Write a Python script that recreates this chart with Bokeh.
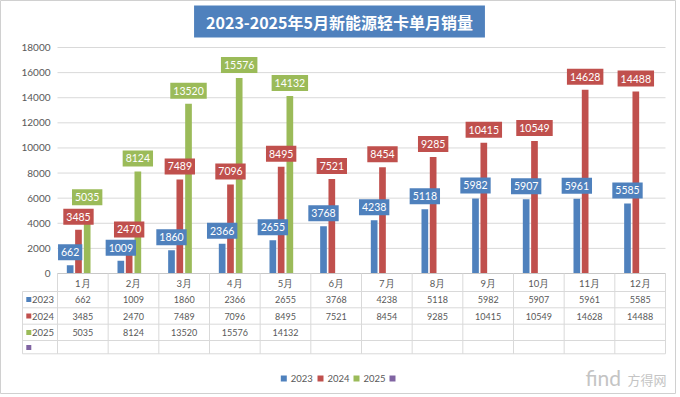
from bokeh.plotting import figure
from bokeh.models import Range1d, ColumnDataSource
from bokeh.core.properties import value
from bokeh.embed import file_html
from bokeh.resources import INLINE

# ---------------- data ----------------
title_text = "2023-2025年5月新能源轻卡单月销量"
months = ["1月", "2月", "3月", "4月", "5月", "6月", "7月", "8月", "9月", "10月", "11月", "12月"]
series_names = ["2023", "2024", "2025"]
sales_2023 = [662, 1009, 1860, 2366, 2655, 3768, 4238, 5118, 5982, 5907, 5961, 5585]
sales_2024 = [3485, 2470, 7489, 7096, 8495, 7521, 8454, 9285, 10415, 10549, 14628, 14488]
sales_2025 = [5035, 8124, 13520, 15576, 14132]
y_ticks = [0, 2000, 4000, 6000, 8000, 10000, 12000, 14000, 16000, 18000]

# ---------------- styles / layout ----------------
C_BLUE, C_RED, C_GREEN, C_PURPLE = "#4F81BD", "#C0504D", "#9BBB59", "#8064A2"
GREY_TXT = "#595959"
LINE = "#d9d9d9"
FONT = value("Lato")

W, H = 676, 394
U = 608 / 12          # px per category
K = 18000 / 226       # value units per px


def xd(px):  # canvas px -> data x
    return (px - 57) / U


def yd(py):  # canvas py -> data y
    return (273 - py) * K


p = figure(width=W, height=H,
           x_range=Range1d(xd(0), xd(W)), y_range=Range1d(yd(H), yd(0)),
           output_backend="svg", toolbar_location=None,
           x_axis_location=None, y_axis_location=None, min_border=0,
           background_fill_color="white", border_fill_color="white",
           outline_line_color="#d0d0d0")
p.grid.visible = False

n = len(months)
centers = [i + 0.5 for i in range(n)]
OFF = [-0.25, -0.0858, 0.0858, 0.25]
BW = 0.132
PAD_H, PAD_V = 3, 4

# gridlines
p.segment(x0=[xd(57)] * len(y_ticks), x1=[xd(665)] * len(y_ticks), y0=y_ticks, y1=y_ticks,
          line_color=LINE, line_width=1)
# y tick labels
p.text(x=[xd(50)] * len(y_ticks), y=y_ticks, text=[str(t) for t in y_ticks],
       text_align="right", text_baseline="middle", text_font=FONT,
       text_font_size="10px", text_color=GREY_TXT)

# bars
src23 = ColumnDataSource(dict(x=[c + OFF[0] for c in centers], top=sales_2023))
src24 = ColumnDataSource(dict(x=[c + OFF[1] for c in centers], top=sales_2024))
src25 = ColumnDataSource(dict(x=[c + OFF[2] for c in centers[:len(sales_2025)]], top=sales_2025))
p.vbar(x="x", top="top", width=BW, source=src23, fill_color=C_BLUE, line_color=None)
p.vbar(x="x", top="top", width=BW, source=src24, fill_color=C_RED, line_color=None)
p.vbar(x="x", top="top", width=BW, source=src25, fill_color=C_GREEN, line_color=None)

# data labels
for src, vals, col in [(src23, sales_2023, C_BLUE), (src24, sales_2024, C_RED), (src25, sales_2025, C_GREEN)]:
    p.text(x=src.data["x"], y=vals, text=[str(v) for v in vals],
           text_align="center", text_baseline="bottom", y_offset=-5,
           text_font=FONT, text_font_size="10.5px", text_color="white",
           background_fill_color=col, padding=(PAD_H, PAD_V))

# ---------------- data table ----------------
rows_y = [291, 307.3, 323.7, 340, 353.3]
row_c = [299, 315.5, 332, 347]
p.segment(x0=[xd(57)], x1=[xd(665)], y0=[0], y1=[0], line_color="#c8c8c8", line_width=1)
p.segment(x0=[xd(22)] * len(rows_y), x1=[xd(665)] * len(rows_y),
          y0=[yd(v) for v in rows_y], y1=[yd(v) for v in rows_y], line_color=LINE, line_width=1)
p.segment(x0=list(range(n + 1)), x1=list(range(n + 1)), y0=[0] * (n + 1), y1=[yd(353.3)] * (n + 1),
          line_color=LINE, line_width=1)
p.segment(x0=[xd(22)], x1=[xd(22)], y0=[yd(291)], y1=[yd(353.3)], line_color=LINE, line_width=1)
p.text(x=centers, y=[yd(282.5)] * n, text=months, text_align="center", text_baseline="middle",
       text_font=FONT, text_font_size="9.5px", text_color=GREY_TXT)
p.scatter(x=[xd(28.3)] * 4, y=[yd(v) for v in row_c], marker="square", size=5,
          fill_color=[C_BLUE, C_RED, C_GREEN, C_PURPLE], line_color=None)
p.text(x=[xd(31.5)] * 3, y=[yd(v) for v in row_c[:3]], text=series_names,
       text_align="left", text_baseline="middle", text_font=FONT,
       text_font_size="9.5px", text_color=GREY_TXT)
for vals, yc in [(sales_2023, row_c[0]), (sales_2024, row_c[1]), (sales_2025, row_c[2])]:
    p.text(x=centers[:len(vals)], y=[yd(yc)] * len(vals), text=[str(v) for v in vals],
           text_align="center", text_baseline="middle", text_font=FONT,
           text_font_size="9px", text_color=GREY_TXT)

# ---------------- title ----------------
p.text(x=[xd(339)], y=[yd(5)], text=[title_text], text_align="center", text_baseline="top",
       text_font=value("Noto Sans CJK SC"), text_font_style="bold", text_font_size="16px",
       text_color="white", background_fill_color=C_BLUE, padding=(12, 4))

# ---------------- legend (drawn as squares + labels) ----------------
leg_sq_x = [283.3, 320.0, 356.0, 392.0]
p.scatter(x=[xd(v) for v in leg_sq_x], y=[yd(378)] * 4, marker="square", size=6,
          fill_color=[C_BLUE, C_RED, C_GREEN, C_PURPLE], line_color=None)
p.text(x=[xd(v + 7) for v in leg_sq_x[:3]], y=[yd(378)] * 3, text=series_names,
       text_align="left", text_baseline="middle", text_font=FONT,
       text_font_size="9.5px", text_color=GREY_TXT)

# ---------------- watermark ----------------
p.text(x=[xd(585)], y=[yd(377)], text=["find"], text_align="left", text_baseline="middle",
       text_font=FONT, text_font_size="21px", text_color="#c4c4c4")
p.text(x=[xd(627)], y=[yd(379)], text=["方得网"], text_align="left", text_baseline="middle",
       text_font=value("Noto Sans CJK SC"), text_font_size="13px", text_color="#c4c4c4")

open("out.html", "w").write(file_html(p, INLINE))
